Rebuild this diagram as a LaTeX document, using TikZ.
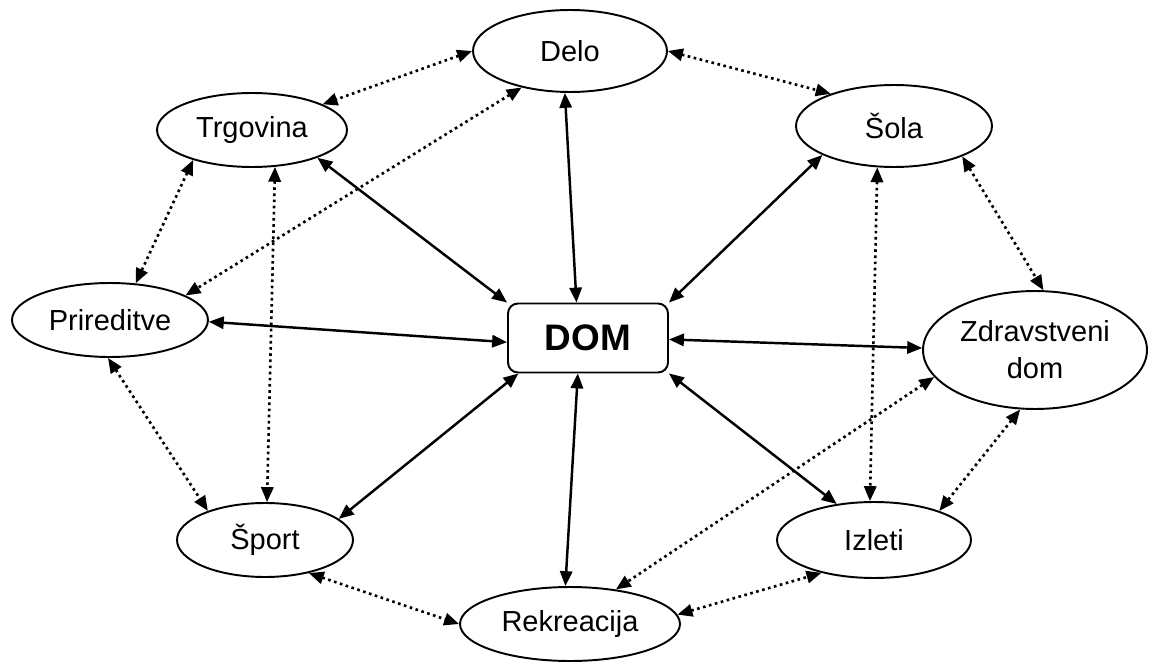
\documentclass[tikz,border=0pt]{standalone}
\usepackage{fontspec}
\setmainfont{Liberation Sans}
\usetikzlibrary{shapes}
\usetikzlibrary{arrows.meta}
\tikzset{
  place/.style = {ellipse, draw=black, line width=1.1pt, inner sep=0pt, align=center,
    font=\fontsize{16.5}{21}\selectfont},% lokacija
  home/.style = {rectangle, rounded corners=0.2cm, draw=black, line width=1.1pt,
    minimum width=3.2cm, minimum height=1.38cm, font=\fontsize{21}{25}\selectfont\bfseries},% dom
  link/.style = {draw, line width=1.4pt, {Triangle[length=8.5pt,width=7pt]}-{Triangle[length=8.5pt,width=7pt]}},
  trip/.style = {link, line width=1.5pt, dash pattern=on 1.5pt off 2pt},
}
\begin{document}
\begin{tikzpicture}[x=0.02cm,y=-0.02cm]
  \useasboundingbox (0,0) rectangle (1153,662);

  \node[home] (dom) at (588,338) {DOM};
  \node[place, minimum width=3.88cm, minimum height=1.64cm] (delo) at (570,51) {Delo};
  \node[place, minimum width=3.8cm, minimum height=1.48cm] (trgovina) at (252,130) {Trgovina};
  \node[place, minimum width=3.92cm, minimum height=1.64cm] (sola) at (894,126) {Šola};
  \node[place, minimum width=3.92cm, minimum height=1.48cm] (prireditve) at (110,320) {Prireditve};
  \node[place, minimum width=4.48cm, minimum height=2.36cm] (zdrav) at (1035,350) {Zdravstveni\\dom};
  \node[place, minimum width=3.52cm, minimum height=1.48cm] (sport) at (265,540) {Šport};
  \node[place, minimum width=3.88cm, minimum height=1.52cm] (izleti) at (874,540) {Izleti};
  \node[place, minimum width=4.4cm, minimum height=1.48cm] (rekreacija) at (570,624) {Rekreacija};

  % dom <-> ostalo
  \path[link] (delo.263) -- (dom.108);
  \path[link] (trgovina.-23) -- (dom.north west);
  \path[link] (sola.202) -- (dom.north east);
  \path[link] (prireditve.-1) -- (dom.183);
  \path[link] (dom.-1) -- (zdrav.179);
  \path[link] (sport.16) -- (dom.207);
  \path[link] (rekreacija.97) -- (dom.254);
  \path[link] (dom.south east) -- (izleti.136);

  % med lokacijami
  \path[trip] (delo.west) -- (trgovina.20);
  \path[trip] (delo.east) -- (sola.153);
  \path[trip] (delo.217) -- (prireditve.18);
  \path[trip] (trgovina.207) -- (prireditve.55);
  \path[trip] (trgovina.-58) -- (sport.87);
  \path[trip] (prireditve.267) -- (sport.153);
  \path[trip] (sola.-24) -- (zdrav.82);
  \path[trip] (sola.248) -- (izleti.96);
  \path[trip] (zdrav.195) -- (rekreacija.37);
  \path[trip] (zdrav.256) -- (izleti.24);
  \path[trip] (sport.-37) -- (rekreacija.west);
  \path[trip] (rekreacija.5) -- (izleti.212);
\end{tikzpicture}
\end{document}
